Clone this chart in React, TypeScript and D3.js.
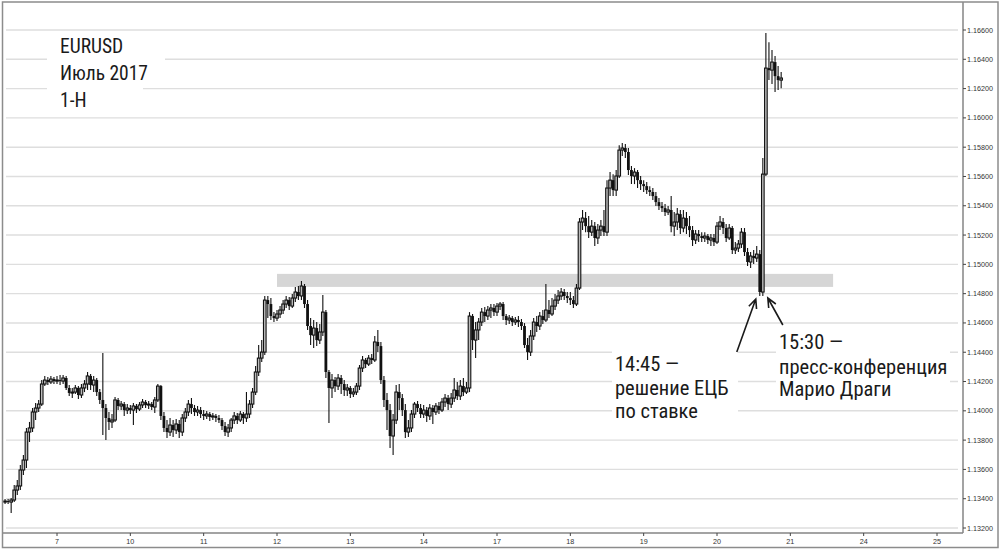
import React from "react";
import * as d3 from "d3";

// ---------- DATA ----------
const titleLines = ["EURUSD", "Июль 2017", "1-Н"];

// Hourly candles [open, high, low, close]; weekends are skipped by the chart.
// 6 July, 07:00 - 23:00
const jul06: number[][] = [
  [1.13377, 1.13398, 1.13364, 1.13384], [1.13384, 1.13398, 1.13364, 1.13377], [1.13377, 1.13405, 1.13302, 1.13391],
  [1.13391, 1.13494, 1.13377, 1.13459], [1.13459, 1.13528, 1.13425, 1.13487], [1.13487, 1.1363, 1.13459, 1.13596],
  [1.13596, 1.13698, 1.13562, 1.13664], [1.13664, 1.13883, 1.1361, 1.13855], [1.13855, 1.13924, 1.13787, 1.13883],
  [1.13883, 1.14019, 1.13855, 1.13992], [1.13992, 1.14053, 1.13937, 1.14019], [1.14019, 1.14074, 1.13992, 1.14046],
  [1.14046, 1.1421, 1.14033, 1.14183], [1.14183, 1.14238, 1.14169, 1.1421], [1.1421, 1.14231, 1.14176, 1.14197],
  [1.14197, 1.14238, 1.14183, 1.14217], [1.14217, 1.14231, 1.14183, 1.14203],
];
const jul07: number[][] = [
  [1.14203, 1.14238, 1.14183, 1.1421], [1.1421, 1.14244, 1.14176, 1.14203], [1.14203, 1.14244, 1.14183, 1.14224],
  [1.14224, 1.14238, 1.14142, 1.14156], [1.14156, 1.14176, 1.14101, 1.14122], [1.14122, 1.14156, 1.14087, 1.14128],
  [1.14128, 1.14176, 1.14115, 1.14156], [1.14156, 1.14169, 1.14081, 1.14108], [1.14108, 1.14183, 1.14087, 1.14156],
  [1.14156, 1.1421, 1.14128, 1.14183], [1.14183, 1.14265, 1.14142, 1.14238], [1.14238, 1.14251, 1.14142, 1.14176],
  [1.14176, 1.14238, 1.14128, 1.1421], [1.1421, 1.14224, 1.14101, 1.14128], [1.14128, 1.14149, 1.14046, 1.14074],
  [1.14074, 1.14395, 1.13835, 1.14019], [1.14019, 1.14046, 1.13801, 1.13951], [1.13951, 1.13992, 1.13869, 1.13924],
  [1.13924, 1.13978, 1.13883, 1.13937], [1.13937, 1.14094, 1.13924, 1.14074], [1.14074, 1.14087, 1.14005, 1.14033],
  [1.14033, 1.14067, 1.14005, 1.14046], [1.14046, 1.1406, 1.13965, 1.14005], [1.14005, 1.14046, 1.13978, 1.14019],
];
const jul10: number[][] = [
  [1.14019, 1.1404, 1.13978, 1.14005], [1.14005, 1.14053, 1.13903, 1.14033], [1.14033, 1.14046, 1.13985, 1.14012],
  [1.14012, 1.1406, 1.13999, 1.1404], [1.1404, 1.14081, 1.14019, 1.1406], [1.1406, 1.14074, 1.14019, 1.1404],
  [1.1404, 1.14067, 1.14012, 1.14046], [1.14046, 1.1406, 1.14005, 1.14026], [1.14026, 1.14094, 1.13985, 1.14074],
  [1.14074, 1.14183, 1.1406, 1.14169], [1.14169, 1.14176, 1.13937, 1.13965], [1.13965, 1.13992, 1.13855, 1.13883],
  [1.13883, 1.13937, 1.13814, 1.13855], [1.13855, 1.13951, 1.13828, 1.13903], [1.13903, 1.13937, 1.13821, 1.13869],
  [1.13869, 1.13944, 1.13842, 1.1391], [1.1391, 1.13937, 1.13814, 1.13855], [1.13855, 1.13978, 1.13828, 1.13951],
  [1.13951, 1.14019, 1.13924, 1.13992], [1.13992, 1.14074, 1.13965, 1.14046], [1.14046, 1.14087, 1.13978, 1.14019],
  [1.14019, 1.1404, 1.13965, 1.13992], [1.13992, 1.14033, 1.13965, 1.14005], [1.14005, 1.14026, 1.13951, 1.13978],
];
const jul11: number[][] = [
  [1.13978, 1.14005, 1.13937, 1.13965], [1.13965, 1.13999, 1.13944, 1.13978], [1.13978, 1.13992, 1.1393, 1.13958],
  [1.13958, 1.13985, 1.13937, 1.13965], [1.13965, 1.13978, 1.13924, 1.13951], [1.13951, 1.13971, 1.13917, 1.13937],
  [1.13937, 1.13951, 1.13869, 1.13896], [1.13896, 1.13924, 1.13828, 1.13855], [1.13855, 1.1391, 1.13821, 1.13883],
  [1.13883, 1.13951, 1.13855, 1.13937], [1.13937, 1.13992, 1.1391, 1.13965], [1.13965, 1.13985, 1.1391, 1.13937],
  [1.13937, 1.13999, 1.13924, 1.13978], [1.13978, 1.13992, 1.1391, 1.13951], [1.13951, 1.14128, 1.13924, 1.13978],
  [1.13978, 1.14074, 1.13951, 1.14046], [1.14046, 1.14156, 1.14019, 1.14128], [1.14128, 1.14306, 1.14108, 1.14265],
  [1.14265, 1.14449, 1.14238, 1.1436], [1.1436, 1.14483, 1.14333, 1.14401], [1.14401, 1.14784, 1.14381, 1.14756],
  [1.14756, 1.14784, 1.14633, 1.14729], [1.14729, 1.1477, 1.1462, 1.14647], [1.14647, 1.14674, 1.14606, 1.14633],
];
const jul12: number[][] = [
  [1.14633, 1.14688, 1.14613, 1.14661], [1.14661, 1.14715, 1.14633, 1.14688], [1.14688, 1.14756, 1.14661, 1.14729],
  [1.14729, 1.14784, 1.14702, 1.14756], [1.14756, 1.14777, 1.14688, 1.14715], [1.14715, 1.14797, 1.14702, 1.1477],
  [1.1477, 1.14845, 1.14743, 1.14811], [1.14811, 1.14852, 1.14756, 1.14784], [1.14784, 1.14886, 1.14756, 1.14852],
  [1.14852, 1.14866, 1.14702, 1.14729], [1.14729, 1.14756, 1.14552, 1.14579], [1.14579, 1.14633, 1.14449, 1.14517],
  [1.14517, 1.1462, 1.14429, 1.14565], [1.14565, 1.14606, 1.14442, 1.14483], [1.14483, 1.14593, 1.14456, 1.14538],
  [1.14538, 1.1479, 1.14511, 1.14674], [1.14674, 1.14688, 1.14224, 1.14265], [1.14265, 1.14279, 1.13917, 1.14156],
  [1.14156, 1.14251, 1.14087, 1.1421], [1.1421, 1.14231, 1.14128, 1.14169], [1.14169, 1.14251, 1.14142, 1.14224],
  [1.14224, 1.14244, 1.14115, 1.14183], [1.14183, 1.1421, 1.14101, 1.14142], [1.14142, 1.14183, 1.14101, 1.14156],
];
const jul13: number[][] = [
  [1.14156, 1.14169, 1.14087, 1.14115], [1.14115, 1.14156, 1.14094, 1.14128], [1.14128, 1.1419, 1.14108, 1.14169],
  [1.14169, 1.14313, 1.14142, 1.14292], [1.14292, 1.14374, 1.14265, 1.14347], [1.14347, 1.1436, 1.14292, 1.14319],
  [1.14319, 1.14381, 1.14306, 1.1436], [1.1436, 1.14388, 1.14319, 1.14347], [1.14347, 1.14511, 1.14333, 1.1447],
  [1.1447, 1.14552, 1.14401, 1.14442], [1.14442, 1.1447, 1.14183, 1.1421], [1.1421, 1.14238, 1.14026, 1.14074],
  [1.14074, 1.14122, 1.13869, 1.14005], [1.14005, 1.14046, 1.13746, 1.13828], [1.13828, 1.13978, 1.13698, 1.13937],
  [1.13937, 1.14176, 1.1391, 1.14128], [1.14128, 1.14183, 1.14005, 1.14087], [1.14087, 1.14115, 1.13965, 1.14005],
  [1.14005, 1.14046, 1.13814, 1.13855], [1.13855, 1.13937, 1.13821, 1.13883], [1.13883, 1.14005, 1.13855, 1.13978],
  [1.13978, 1.1406, 1.13951, 1.14046], [1.14046, 1.14067, 1.13992, 1.14019], [1.14019, 1.14046, 1.13951, 1.13978],
];
const jul14: number[][] = [
  [1.13978, 1.1404, 1.13951, 1.14005], [1.14005, 1.14026, 1.13924, 1.13965], [1.13965, 1.14046, 1.13937, 1.14019],
  [1.14019, 1.1404, 1.1391, 1.13992], [1.13992, 1.14053, 1.13971, 1.14033], [1.14033, 1.1406, 1.13978, 1.14005],
  [1.14005, 1.14087, 1.13992, 1.1406], [1.1406, 1.14115, 1.14026, 1.14087], [1.14087, 1.14108, 1.14005, 1.14046],
  [1.14046, 1.14122, 1.14019, 1.14087], [1.14087, 1.14224, 1.1406, 1.14142], [1.14142, 1.14197, 1.14074, 1.14101],
  [1.14101, 1.1421, 1.14074, 1.14169], [1.14169, 1.14224, 1.14101, 1.14128], [1.14128, 1.14197, 1.14115, 1.14156],
  [1.14156, 1.14674, 1.14128, 1.14647], [1.14647, 1.14661, 1.14415, 1.14483], [1.14483, 1.14606, 1.1436, 1.14552],
  [1.14552, 1.14633, 1.14483, 1.14606], [1.14606, 1.14702, 1.14579, 1.14674], [1.14674, 1.14709, 1.14606, 1.14647],
  [1.14647, 1.14715, 1.1462, 1.14688], [1.14688, 1.14729, 1.14633, 1.14702], [1.14702, 1.14729, 1.14647, 1.14674],
];
const jul17: number[][] = [
  [1.14674, 1.14736, 1.14647, 1.14715], [1.14715, 1.14743, 1.14688, 1.14729], [1.14729, 1.14743, 1.1462, 1.14647],
  [1.14647, 1.14661, 1.14586, 1.1462], [1.1462, 1.14654, 1.14593, 1.14633], [1.14633, 1.14647, 1.14579, 1.14606],
  [1.14606, 1.1464, 1.14586, 1.1462], [1.1462, 1.14647, 1.14572, 1.14606], [1.14606, 1.14627, 1.14552, 1.14579],
  [1.14579, 1.14599, 1.14429, 1.14449], [1.14449, 1.14497, 1.14347, 1.14401], [1.14401, 1.14552, 1.14374, 1.14511],
  [1.14511, 1.14633, 1.14483, 1.14606], [1.14606, 1.14647, 1.14538, 1.14579], [1.14579, 1.14674, 1.14552, 1.14647],
  [1.14647, 1.14688, 1.14593, 1.1462], [1.1462, 1.14866, 1.14606, 1.14688], [1.14688, 1.14756, 1.14633, 1.14661],
  [1.14661, 1.1477, 1.14647, 1.14715], [1.14715, 1.14797, 1.14688, 1.14756], [1.14756, 1.14825, 1.14729, 1.14784],
  [1.14784, 1.14838, 1.14756, 1.14811], [1.14811, 1.14831, 1.14756, 1.14784], [1.14784, 1.14811, 1.14736, 1.1477],
];
const jul18: number[][] = [
  [1.1477, 1.14811, 1.14722, 1.14756], [1.14756, 1.14784, 1.14702, 1.14729], [1.14729, 1.14866, 1.14715, 1.14838],
  [1.14838, 1.15316, 1.14825, 1.15289], [1.15289, 1.15371, 1.15234, 1.15316], [1.15316, 1.15357, 1.1522, 1.15261],
  [1.15261, 1.1533, 1.1518, 1.1522], [1.1522, 1.15302, 1.15193, 1.15261], [1.15261, 1.15289, 1.15125, 1.1518],
  [1.1518, 1.15275, 1.15139, 1.15234], [1.15234, 1.15302, 1.15193, 1.15261], [1.15261, 1.15371, 1.15193, 1.1522],
  [1.1522, 1.15575, 1.15193, 1.15521], [1.15521, 1.1563, 1.15466, 1.15575], [1.15575, 1.15616, 1.15466, 1.15507],
  [1.15507, 1.15644, 1.15466, 1.15603], [1.15603, 1.15814, 1.15589, 1.1578], [1.1578, 1.15828, 1.15739, 1.15794],
  [1.15794, 1.15821, 1.15726, 1.15767], [1.15767, 1.15794, 1.1561, 1.15644], [1.15644, 1.15671, 1.15548, 1.15603],
  [1.15603, 1.15657, 1.15548, 1.1563], [1.1563, 1.15644, 1.15521, 1.15575], [1.15575, 1.15603, 1.15507, 1.15548],
];
const jul19: number[][] = [
  [1.15548, 1.15575, 1.15494, 1.15534], [1.15534, 1.15562, 1.1548, 1.15507], [1.15507, 1.15534, 1.15466, 1.15494],
  [1.15494, 1.15521, 1.15439, 1.15466], [1.15466, 1.15494, 1.15398, 1.15425], [1.15425, 1.15453, 1.15371, 1.15398],
  [1.15398, 1.15425, 1.15357, 1.15384], [1.15384, 1.15412, 1.1533, 1.15357], [1.15357, 1.15398, 1.15337, 1.15371],
  [1.15371, 1.15466, 1.1522, 1.15261], [1.15261, 1.15357, 1.15193, 1.15289], [1.15289, 1.15384, 1.15234, 1.15343],
  [1.15343, 1.15371, 1.15207, 1.15248], [1.15248, 1.15371, 1.1522, 1.15316], [1.15316, 1.15357, 1.15207, 1.15261],
  [1.15261, 1.1533, 1.15186, 1.15234], [1.15234, 1.15261, 1.15125, 1.15166], [1.15166, 1.15234, 1.15139, 1.15207],
  [1.15207, 1.15234, 1.15152, 1.15193], [1.15193, 1.1522, 1.15152, 1.1518], [1.1518, 1.1522, 1.15152, 1.15193],
  [1.15193, 1.15207, 1.15139, 1.15166], [1.15166, 1.15207, 1.15125, 1.1518], [1.1518, 1.15207, 1.15125, 1.15152],
];
// 20 July, 00:00 - 21:00
const jul20: number[][] = [
  [1.15152, 1.15289, 1.15139, 1.15261], [1.15261, 1.1533, 1.15234, 1.15289], [1.15289, 1.15316, 1.15207, 1.15248],
  [1.15248, 1.15275, 1.15152, 1.1518], [1.1518, 1.15275, 1.15166, 1.15248], [1.15248, 1.15261, 1.1507, 1.15098],
  [1.15098, 1.15152, 1.1507, 1.15111], [1.15111, 1.15166, 1.15084, 1.15139], [1.15139, 1.15248, 1.15111, 1.1522],
  [1.1522, 1.15248, 1.15057, 1.15084], [1.15084, 1.15111, 1.14988, 1.15016], [1.15016, 1.15084, 1.14975, 1.15057],
  [1.15057, 1.15098, 1.15002, 1.15043], [1.15043, 1.15125, 1.15016, 1.1507], [1.1507, 1.15098, 1.14784, 1.14811],
  [1.14811, 1.15726, 1.14784, 1.15616], [1.15616, 1.16579, 1.15603, 1.1634], [1.1634, 1.16517, 1.16258, 1.16326],
  [1.16326, 1.16463, 1.16231, 1.16381], [1.16381, 1.16422, 1.16176, 1.16285], [1.16285, 1.16354, 1.1619, 1.16258],
  [1.16258, 1.16313, 1.16203, 1.16272],
];

const candlesBeforeJul7 = 17; // hourly candles of 6 July shown before 7 July 00:00
const dayLabels = ["7", "10", "11", "12", "13", "14", "17", "18", "19", "20", "21", "24", "25"];
const priceTicks = [
  1.132, 1.134, 1.136, 1.138, 1.14, 1.142, 1.144, 1.146, 1.148,
  1.15, 1.152, 1.154, 1.156, 1.158, 1.16, 1.162, 1.164, 1.166,
];
// horizontal support zone
const zoneLow = 1.14846;
const zoneHigh = 1.14935;
const zoneFromHour = 72; // 12 July 00:00 (hours after 7 July 00:00, trading hours only)
const zoneToHour = 254;

const events = [
  { hour: 230, lines: ["14:45 —", "решение ЕЦБ", "по ставке"] },
  { hour: 231, lines: ["15:30 —", "пресс-конференция", "Марио Драги"] },
];

const allCandles = [
  ...jul06, ...jul07, ...jul10, ...jul11, ...jul12, ...jul13, ...jul14,
  ...jul17, ...jul18, ...jul19, ...jul20,
];

// ---------- CHART ----------
const W = 1000;
const H = 550;
const plotRight = 963;
const plotBottom = 533;
const FONT = "'Liberation Sans Narrow', 'Roboto Condensed', Roboto, 'Liberation Sans', sans-serif";

function arrowPath(x1: number, y1: number, x2: number, y2: number) {
  const a = Math.atan2(y2 - y1, x2 - x1);
  const L = 10;
  const w = 0.42;
  return (
    `M${x1},${y1}L${x2},${y2}` +
    `M${x2 - L * Math.cos(a - w)},${y2 - L * Math.sin(a - w)}L${x2},${y2}` +
    `L${x2 - L * Math.cos(a + w)},${y2 - L * Math.sin(a + w)}`
  );
}

export default function App() {
  const x = d3.scaleLinear().domain([0, 24 * 12]).range([57, 937]);
  const y = d3.scaleLinear().domain([1.132, 1.166]).range([528, 30]);
  const fmt = d3.format(".5f");

  const candleHour = (k: number) => k - candlesBeforeJul7;

  const ev1 = events[0];
  const ev2 = events[1];
  const c1 = allCandles[ev1.hour + candlesBeforeJul7];
  const c2 = allCandles[ev2.hour + candlesBeforeJul7];
  const tip1 = [x(ev1.hour) - 4, y(c1[2]) + 3];
  const tail1 = [tip1[0] - 19, tip1[1] + 53];
  const tip2 = [x(ev2.hour) + 5, y(c2[2]) + 2];
  const tail2 = [tip2[0] + 15, tip2[1] + 27];

  return (
    <svg
      width={W}
      height={H}
      style={{ position: "absolute", left: 0, top: 0, background: "#fff" }}
    >
      <rect x={0} y={0} width={W} height={H} fill="#fff" />
      {/* grid */}
      {priceTicks.map((p) => (
        <line key={p} x1={6} x2={958} y1={y(p)} y2={y(p)} stroke="#dedede" strokeWidth={1.4} />
      ))}
      {/* zone */}
      <rect
        x={x(zoneFromHour)}
        width={x(zoneToHour) - x(zoneFromHour)}
        y={y(zoneHigh)}
        height={y(zoneLow) - y(zoneHigh)}
        fill="#d6d6d6"
      />
      {/* candles */}
      {allCandles.map((c, k) => {
        const [o, h, l, cl] = c;
        const cx = x(candleHour(k));
        const up = cl >= o;
        const top = y(Math.max(o, cl));
        const bot = y(Math.min(o, cl));
        const bh = Math.max(1, bot - top);
        return (
          <g key={k}>
            <line x1={cx} x2={cx} y1={y(h)} y2={y(l)} stroke="#111" strokeWidth={1.1} />
            {up ? (
              <rect x={cx - 1.3} y={top} width={2.6} height={bh} fill="#bbb" stroke="#111" strokeWidth={1.1} />
            ) : (
              <rect x={cx - 1.4} y={top} width={2.8} height={bh} fill="#111" />
            )}
          </g>
        );
      })}
      {/* title block */}
      <rect x={47} y={35} width={118} height={52} fill="#fff" />
      <rect x={47} y={87} width={96} height={26} fill="#fff" />
      {titleLines.map((t, i) => (
        <text key={t} x={60} y={53 + i * 27} fontFamily={FONT} fontSize={19.5} fill="#1a1a1a">
          {t}
        </text>
      ))}
      {/* annotations */}
      <rect x={612} y={350} width={126} height={76} fill="#fff" />
      <rect x={776} y={330} width={174} height={72} fill="#fff" />
      {ev1.lines.map((t, i) => (
        <text key={t} x={615} y={[371, 395, 418][i]} fontFamily={FONT} fontSize={20.5} fill="#1a1a1a">
          {t}
        </text>
      ))}
      {ev2.lines.map((t, i) => (
        <text key={t} x={779} y={[349, 374, 396][i]} fontFamily={FONT} fontSize={20.5} fill="#1a1a1a">
          {t}
        </text>
      ))}
      <path d={arrowPath(tail1[0], tail1[1], tip1[0], tip1[1])} stroke="#1a1a1a" strokeWidth={1.6} fill="none" />
      <path d={arrowPath(tail2[0], tail2[1], tip2[0], tip2[1])} stroke="#1a1a1a" strokeWidth={1.6} fill="none" />
      {/* axes */}
      <line x1={plotRight} x2={plotRight} y1={2} y2={plotBottom} stroke="#858585" strokeWidth={1.5} />
      <line x1={2} x2={plotRight} y1={plotBottom} y2={plotBottom} stroke="#858585" strokeWidth={1.5} />
      {priceTicks.map((p) => (
        <g key={"t" + p}>
          <line x1={plotRight} x2={plotRight + 3} y1={y(p)} y2={y(p)} stroke="#444" strokeWidth={1} />
          <text x={967} y={y(p) + 2.5} fontFamily="'Liberation Sans', Arial, sans-serif" fontSize={7.2} fill="#333">
            {fmt(p)}
          </text>
        </g>
      ))}
      {dayLabels.map((d, j) => (
        <g key={"d" + d}>
          <line x1={x(j * 24)} x2={x(j * 24)} y1={plotBottom} y2={plotBottom + 3} stroke="#444" strokeWidth={1} />
          <text
            x={x(j * 24)}
            y={544}
            textAnchor="middle"
            fontFamily="'Liberation Sans', Arial, sans-serif"
            fontSize={7.2}
            fill="#333"
          >
            {d}
          </text>
        </g>
      ))}
      {/* outer frame */}
      <rect x={2.5} y={2} width={995.5} height={545.5} fill="none" stroke="#8c8c8c" strokeWidth={1.5} />
    </svg>
  );
}
